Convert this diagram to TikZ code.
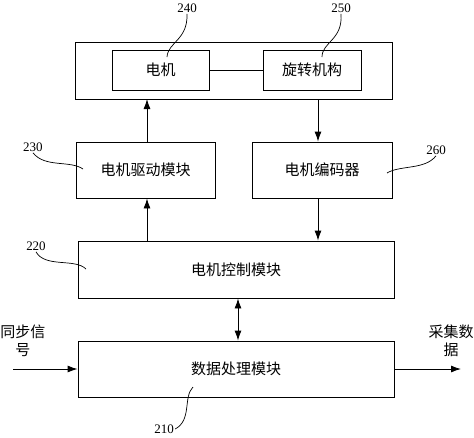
\documentclass[tikz,border=0pt]{standalone}
\usepackage{fontspec}
\setmainfont{Liberation Serif}
\newfontfamily\cjk{Noto Sans CJK SC}
\usetikzlibrary{positioning, arrows.meta}

\tikzset{
    block/.style={draw, line width=0.9pt, font=\cjk\fontsize{15}{17}\selectfont, inner sep=0pt},
    refnum/.style={font=\fontsize{13}{14}\selectfont, inner sep=1pt},
    leader/.style={line width=0.7pt},
    side/.style={font=\cjk\fontsize{15}{18}\selectfont, align=center, inner sep=0pt},
}

\begin{document}
\begin{tikzpicture}[x=1pt, y=-1pt, >={Latex[length=10pt, width=7pt]}, line width=0.9pt]
    \useasboundingbox (0, 0) rectangle (474, 437);

    % blocks
    \node[block, minimum width=317pt, minimum height=57pt] (unit) at (233.5, 70.5) {};
    \node[block, minimum width=97pt, minimum height=40pt] (motor) at (160.5, 70) {电机};
    \node[block, minimum width=98pt, minimum height=40pt] (rot) at (312, 70) {旋转机构};
    \node[block, minimum width=139pt, minimum height=56pt] (drive) at (145.5, 170) {电机驱动模块};
    \node[block, minimum width=140pt, minimum height=56pt] (enc) at (322, 170) {电机编码器};
    \node[block, minimum width=316pt, minimum height=57pt] (ctrl) at (236, 269.5) {电机控制模块};
    \node[block, minimum width=316pt, minimum height=56pt] (data) at (236, 369) {数据处理模块};

    % side texts
    \node[side] (sync) at (23, 341) {同步信\\号};
    \node[side] (out) at (451, 341) {采集数\\据};
    \coordinate (syncin) at (13, 369);
    \coordinate (dataout) at (461, 369);

    % reference numbers
    \node[refnum] (n240) at (187, 8) {240};
    \node[refnum] (n250) at (341, 8) {250};
    \node[refnum] (n230) at (33, 147) {230};
    \node[refnum] (n260) at (436, 150) {260};
    \node[refnum] (n220) at (36, 246) {220};
    \node[refnum] (n210) at (164, 429) {210};

    % connectors
    \draw (motor) -- (rot);
    \draw[->] (drive.north -| 147, 0) -- (147, 99);
    \draw[->] (318, 99) -- (enc.north -| 318, 0);
    \draw[->] (ctrl.north -| 147, 0) -- (drive.south -| 147, 0);
    \draw[->] (enc.south -| 318, 0) -- (ctrl.north -| 318, 0);
    \draw[<->] (ctrl.south -| 238, 0) -- (data.north -| 238, 0);
    \draw[->] (syncin) -- (data.west |- syncin);
    \draw[->] (data.east |- dataout) -- (dataout);

    % leaders
    \draw[leader] (n240.south) .. controls (188, 40) and (168, 42) .. (167, 57);
    \draw[leader] (n250.south) .. controls (343, 40) and (322, 42) .. (322, 57);
    \draw[leader] (n230.south) .. controls (45, 168) and (70, 160) .. (83, 169);
    \draw[leader] (n260.south) .. controls (425, 170) and (400, 165) .. (387, 173);
    \draw[leader] (n220.south) .. controls (45, 268) and (75, 258) .. (86, 269);
    \draw[leader] (193, 387) .. controls (183, 397) and (192, 420) .. (n210.east);
\end{tikzpicture}
\end{document}
